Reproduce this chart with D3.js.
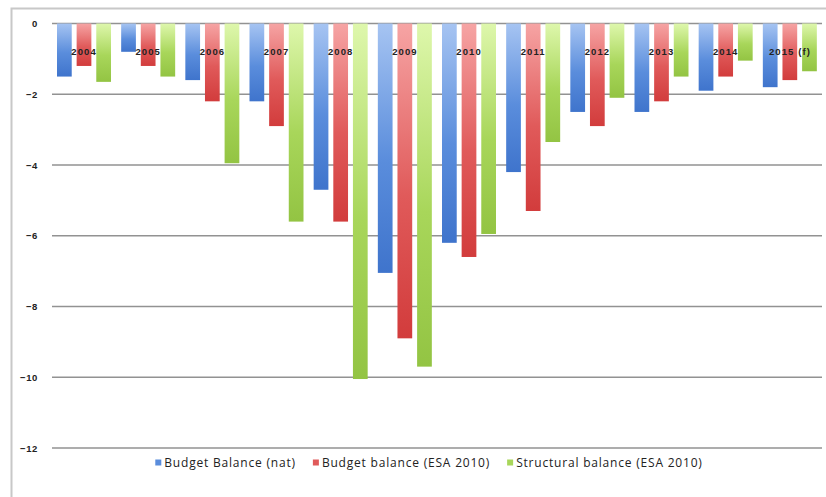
<!DOCTYPE html>
<html>
<head>
<meta charset="utf-8">
<script src="https://cdn.jsdelivr.net/npm/d3@7/dist/d3.min.js"></script>
<style>
  html, body { margin: 0; padding: 0; background: #fff; }
  svg { display: block; }
  text { font-family: "Open Sans", "Liberation Sans", sans-serif; fill: #222; }
</style>
</head>
<body>
<svg id="chart" width="826" height="497"></svg>
<script>
// Government balance, % of GDP
const years = ["2004","2005","2006","2007","2008","2009","2010","2011","2012","2013","2014","2015 (f)"];
const seriesNames = ["Budget Balance (nat)", "Budget balance (ESA 2010)", "Structural balance (ESA 2010)"];
const budgetNat   = [-1.5, -0.8, -1.6, -2.2, -4.7, -7.05, -6.2, -4.2, -2.5, -2.5, -1.9, -1.8];
const budgetEsa   = [-1.2, -1.2, -2.2, -2.9, -5.6, -8.9, -6.6, -5.3, -2.9, -2.2, -1.5, -1.6];
const structural  = [-1.65, -1.5, -3.95, -5.6, -10.05, -9.7, -5.95, -3.35, -2.1, -1.5, -1.05, -1.35];
const yTicks = [0, -2, -4, -6, -8, -10, -12];

const seriesValues = [budgetNat, budgetEsa, structural];
const palette = [
  { light: "#a6c4f2", mid: "#5a8ddc", dark: "#3f74cc" },
  { light: "#f6a4a4", mid: "#e05a5a", dark: "#d23c3c" },
  { light: "#def7ac", mid: "#a8d65a", dark: "#93c443" }
];

const svg = d3.select("#chart");
const W = 826, H = 497;
const plot = { left: 52, right: 822, top: 23.5, bottom: 448 };

// frame
svg.append("path")
  .attr("d", `M11.5,${H} V8.5 H${W}`)
  .attr("fill", "none").attr("stroke", "#c8c8c8").attr("stroke-width", 2);

const y = d3.scaleLinear().domain([0, -12]).range([plot.top, plot.bottom]);
const x0 = d3.scaleBand().domain(years).range([plot.left, plot.right]).padding(0);
const x1 = d3.scaleBand().domain(d3.range(3)).range([5, 59]).paddingInner(0.25);

// gradients
const defs = svg.append("defs");
palette.forEach((c, i) => {
  const g = defs.append("linearGradient").attr("id", "grad" + i)
    .attr("x1", 0).attr("y1", 0).attr("x2", 0).attr("y2", 1);
  g.append("stop").attr("offset", "0%").attr("stop-color", c.light);
  g.append("stop").attr("offset", "55%").attr("stop-color", c.mid);
  g.append("stop").attr("offset", "100%").attr("stop-color", c.dark);
});

// gridlines + y axis
const yAxis = d3.axisLeft(y).tickValues(yTicks).tickSize(0).tickPadding(14)
  .tickFormat(d3.format("d"));
const gy = svg.append("g").attr("transform", `translate(${plot.left},0)`).call(yAxis);
gy.select(".domain").remove();
gy.selectAll("text").attr("font-size", 9.5).attr("font-weight", "bold").attr("fill", "#222")
  .attr("letter-spacing", 0.6)
  .style("font-family", "'Liberation Sans', sans-serif");

svg.append("g").selectAll("line").data(yTicks).join("line")
  .attr("x1", plot.left).attr("x2", plot.right)
  .attr("y1", d => y(d)).attr("y2", d => y(d))
  .attr("stroke", "#929292").attr("stroke-width", 1.5);

// bars
const groups = svg.append("g").selectAll("g").data(years).join("g")
  .attr("transform", d => `translate(${x0(d)},0)`);

groups.selectAll("rect")
  .data((d, i) => seriesValues.map((s, k) => ({ k, v: s[i] })))
  .join("rect")
  .attr("x", d => x1(d.k))
  .attr("width", x1.bandwidth())
  .attr("y", y(0))
  .attr("height", d => y(d.v) - y(0))
  .attr("fill", d => `url(#grad${d.k})`);

// category labels inside the plot
svg.append("g").selectAll("text").data(years).join("text")
  .attr("x", d => x0(d) + x0.bandwidth() / 2)
  .attr("y", 55)
  .attr("text-anchor", "middle")
  .attr("font-size", 9.5)
  .attr("font-weight", "bold")
  .attr("letter-spacing", 1.1)
  .style("font-family", "'Liberation Sans', sans-serif")
  .text(d => d);

// legend
const legend = svg.append("g");
let cursor = 0;
seriesNames.forEach((name, i) => {
  const g = legend.append("g");
  g.append("rect").attr("x", 0).attr("y", -3.5).attr("width", 6).attr("height", 6)
    .attr("fill", palette[i].mid);
  const t = g.append("text").attr("x", 9).attr("y", 4)
    .attr("font-size", 12).attr("letter-spacing", 0.8).attr("fill", "#333").text(name);
  const w = 9 + t.node().getComputedTextLength();
  g.attr("transform", `translate(${cursor},0)`);
  cursor += w + 17;
});
const total = cursor - 17;
legend.attr("transform", `translate(${429 - total / 2},463)`);
</script>
</body>
</html>
